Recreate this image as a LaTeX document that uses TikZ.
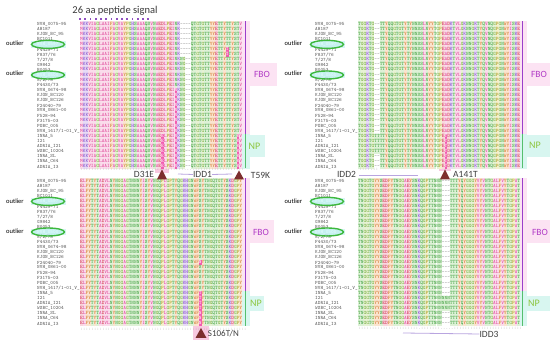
\documentclass[tikz,border=0pt]{standalone}
\usepackage{fontspec}
\setmainfont{Carlito}
\usetikzlibrary{shapes.geometric}
\pgfdeclarelayer{bg}
\pgfsetlayers{bg,main}
\definecolor{hyF}{HTML}{E0479A}\definecolor{hyB}{HTML}{FADCEB}
\definecolor{poF}{HTML}{3A9E3A}\definecolor{poB}{HTML}{DDF1D6}
\definecolor{glF}{HTML}{6AA72F}\definecolor{glB}{HTML}{E7F2D4}
\definecolor{arF}{HTML}{D07A2E}\definecolor{arB}{HTML}{FBE4CF}
\definecolor{prF}{HTML}{A89A1E}\definecolor{prB}{HTML}{F4F0CC}
\definecolor{baF}{HTML}{7E44C4}\definecolor{baB}{HTML}{E7DBF6}
\definecolor{acF}{HTML}{D0304F}\definecolor{acB}{HTML}{F9D6DE}
\definecolor{cyF}{HTML}{B09000}\definecolor{cyB}{HTML}{FAF2C0}
\definecolor{hlB}{HTML}{F25CB0}\definecolor{hlF}{HTML}{FFFFFF}
\definecolor{gapc}{HTML}{8A8A8A}
\definecolor{nmc}{HTML}{555555}
\definecolor{hidc}{HTML}{E6FFFF}
\definecolor{fbo}{HTML}{B13BC6}\definecolor{fbobox}{HTML}{FCE3F3}
\definecolor{npc}{HTML}{8DC63F}\definecolor{npbox}{HTML}{D8F6F0}
\definecolor{barP}{HTML}{9B3FCB}\definecolor{barG}{HTML}{55BF6E}
\definecolor{tric}{HTML}{7D2E2E}\definecolor{iddc}{HTML}{B9A5E0}
\definecolor{ellg}{HTML}{3DB83D}\definecolor{ellf}{HTML}{C6F1F0}
\definecolor{dotc}{HTML}{9050C0}\definecolor{labc}{HTML}{404040}
\definecolor{pinkhl}{HTML}{F8C8E0}
% residue cells
\def\aabox#1#2#3{\rlap{\textcolor{#1}{\rule[-1.5pt]{2.7pt}{5.1pt}}}\hbox to 2.7pt{\hss\textcolor{#2}{#3}\hss}}
\def\defaa#1#2#3{\expandafter\def\csname sqc#1\endcsname{\aabox{#2}{#3}{#1}}}
\defaa A{hyB}{hyF}\defaa I{hyB}{hyF}\defaa L{hyB}{hyF}\defaa V{hyB}{hyF}\defaa M{hyB}{hyF}
\defaa S{poB}{poF}\defaa T{poB}{poF}\defaa N{poB}{poF}\defaa Q{poB}{poF}
\defaa G{glB}{glF}
\defaa F{arB}{arF}\defaa W{arB}{arF}\defaa Y{arB}{arF}
\defaa P{prB}{prF}
\defaa K{baB}{baF}\defaa R{baB}{baF}\defaa H{baB}{baF}
\defaa D{acB}{acF}\defaa E{acB}{acF}
\defaa C{cyB}{cyF}
\expandafter\def\csname sqc-\endcsname{\hbox to 2.7pt{\hss\textcolor{gapc}{-}\hss}}
\def\sqchar#1{\ifcsname sqc#1\endcsname\csname sqc#1\endcsname\else\aabox{hlB}{hlF}{\uppercase{#1}}\fi}
\def\sqend{}
\def\sqloop#1{\ifx#1\sqend\else\sqchar{#1}\expandafter\sqloop\fi}
\def\sq#1{\sqloop#1\sqend}
\def\sqm#1{\expandafter\sq\expandafter{#1}}
% sequences
\def\TLa{MKKVIAGLAAIFAGVAYPGHSAAAQSVNAEDLPEINK----QTGTGTTYYETTYTTYSTV}
\def\TLe{MKKVIAGLAAIFAGVAYPGHSAAAQSVNAEDLPEINK----QTGTGTTYYETTYtTYSTV}
\def\TLb{MKKVIAGLAAIFAGVAYPGHSAAAQSVNAEDLPEINKNG--QTGTGTTYYETTYTTYSTV}
\def\TLd{MKKVIAGLAAIFAGVAYPGHSAAAQSVNAEDLPEInKNG--QTGTGTTYYETTYTTYSTV}
\def\TLc{MKKVIAGLAAIFAGVAYPGHSAAAQSVNAEeLPEInKNG--QTGTGTTYYETTYTTYSkV}
\def\BLa{ELFYTYTADVLNYNGGAGTNNNYISYVNGQPLGPTYQGKHGNWFSYTNGQTGTYSKDGPY}
\def\BLb{ELFYTYTADVLNYNGGAGTNNNYISYVNGQPLGPTYQGKHGNWFtYTNGQTGTYSKDGPY}
\def\BLc{ELFYTYTADVLNYNGGAGTNNNYISYVNGQPLGPTYQGKHGNWFnYTNGQTGTYSKDGPY}
\def\TRa{TGGKTG--TTYQQGTGTYTYNNSSLNYYTGPEADKTVLGKNNGKTYQVNQGPGNWYISKE}
\def\TRb{TGGKTGTTTTYQQGTGTYTYNNSSLNYYTGPEtDKTVLGKNNGKTYQVNQGPGNWYISKE}
\def\TRc{TGGKTG--TTYQQGTGTYTYNNSSLNYYTGPEtDKTVLGKNNGKTYQVNQGPGNWYISKE}
\def\BRa{TNGGTGYYSEDFYTNGGAEYSNKQGPTTNNN---TTTYQYGGGYVYVNTGALFVYTGPAT}
\def\BRb{TNGGTGYYSEDFYTNGGAEYSNKQGPTTNNNNNNTTTYQYGGGYVYVNTGALFVYTGPAT}
\tikzset{
  nm/.style={anchor=west,inner sep=0pt,font=\fontsize{5}{5}\ttfamily,text=nmc},
  sqn/.style={anchor=west,inner sep=0pt,font=\fontsize{5.14}{5.1}\ttfamily},
  cons/.style={anchor=west,inner sep=0pt,font=\fontsize{5.14}{5}\ttfamily,text=gapc!80},
  lab/.style={inner sep=0pt,font=\fontsize{9.5}{9.5}\selectfont,text=labc},
  outl/.style={inner sep=0pt,font=\fontsize{6.5}{6.5}\selectfont,text=black},
  fbolab/.style={inner sep=0pt,font=\fontsize{9.5}{9.5}\selectfont,text=fbo},
  nplab/.style={inner sep=0pt,font=\fontsize{10}{10}\selectfont,text=npc},
  ell/.style={draw=ellg,line width=1.4pt},
  iddline/.style={draw=iddc,line width=0.8pt},
  tri/.style={fill=tric}
}
\newcommand\arow[6]{%
  \pgfmathsetmacro\yt{24+(#1-1)*5.1}%
  \pgfmathsetmacro\yb{181+(#1-1)*5.1}%
  \node[nm] (ntl#1) at (37,\yt) {#2};
  \node[nm] (ntr#1) at (315,\yt) {#2};
  \node[nm] (nbl#1) at (37,\yb) {#2};
  \node[nm] (nbr#1) at (315,\yb) {#2};
  \node[sqn] (stl#1) at (80,\yt) {\sqm{#3}};
  \node[sqn] (sbl#1) at (80,\yb) {\sqm{#4}};
  \node[sqn] (str#1) at (358,\yt) {\sqm{#5}};
  \node[sqn] (sbr#1) at (358,\yb) {\sqm{#6}};
}
\begin{document}
\begin{tikzpicture}[x=1pt,y=-1pt]
\useasboundingbox (0,0) rectangle (550,344);
\begin{pgfonlayer}{bg}
  \fill[white] (0,0) rectangle (550,344);
  % bar bands
  \foreach \bx in {241.5,519} {
    \fill[fbobox] (\bx,21.5) rectangle ++(8,112.2);
    \fill[npbox] (\bx,133.7) rectangle ++(8,35.3);
    \fill[fbobox] (\bx,178.5) rectangle ++(8,112.2);
    \fill[npbox] (\bx,290.7) rectangle ++(8,35.3);
  }
  % label boxes
  \fill[fbobox] (249,63) rectangle (277,86);
  \fill[fbobox] (526,63) rectangle (550,86);
  \fill[fbobox] (246,220) rectangle (274,243);
  \fill[fbobox] (525,220) rectangle (550,243);
  \fill[npbox] (243,135) rectangle (265,157);
  \fill[npbox] (522,135) rectangle (550,157);
  \fill[npbox] (243,296) rectangle (264,311);
  \fill[npbox] (521,296) rectangle (550,311);
  % outlier highlights
  \foreach \ex/\ey in {48/44.4,48/75,327/44.4,327/75,48/201.4,48/232,327/201.4,327/232} {
    \fill[ellf!70] (\ex-17.5,\ey-3.2) rectangle (\ex+17.5,\ey+3.2);
    \fill[ellf] (\ex,\ey) ellipse [x radius=16.5pt, y radius=4pt];
  }
  % pink highlights at markers
  \fill[pinkhl] (155,167.5) rectangle (169,173.5);
  \fill[pinkhl] (439,165) rectangle (451,171);
  \fill[pinkhl] (193,326) rectangle (209,340);
\end{pgfonlayer}
% title and signal dots
\node[inner sep=0pt,font=\fontsize{10.5}{10.5}\selectfont,text=labc!90!black] (title) at (115,10.5) {26 aa peptide signal};
\foreach \k in {0,...,13} {\fill[dotc] (79.2+\k*5.25,18.2) rectangle ++(1.6,1.6);}
% rows
\arow{1}{NVH\_0075-95}{\TLa}{\BLa}{\TRa}{\BRa}
\arow{2}{AH187}{\TLa}{\BLa}{\TRa}{\BRa}
\arow{3}{KJON\_BC\_95}{\TLa}{\BLa}{\TRa}{\BRa}
\arow{4}{BC1011}{\TLa}{\BLa}{\TRa}{\BRa}
\arow{5}{\color{hidc}NVH\_0597}{\TLa}{\BLa}{\TRa}{\BRa}
\arow{6}{F4429-71}{\TLe}{\BLa}{\TRa}{\BRa}
\arow{7}{F837/76}{\TLe}{\BLa}{\TRa}{\BRa}
\arow{8}{7/27/8}{\TLb}{\BLa}{\TRa}{\BRa}
\arow{9}{G9842}{\TLb}{\BLa}{\TRa}{\BRa}
\arow{10}{B0053}{\TLb}{\BLa}{\TRa}{\BRa}
\arow{11}{\color{hidc}NVH\_0500}{\TLb}{\BLa}{\TRa}{\BRa}
\arow{12}{8/2/78}{\TLb}{\BLa}{\TRa}{\BRa}
\arow{13}{F4430/73}{\TLb}{\BLa}{\TRa}{\BRa}
\arow{14}{NVH\_0674-98}{\TLd}{\BLa}{\TRa}{\BRa}
\arow{15}{KJON\_BC120}{\TLd}{\BLa}{\TRa}{\BRa}
\arow{16}{KJON\_BC126}{\TLd}{\BLa}{\TRa}{\BRa}
\arow{17}{F24040-79}{\TLd}{\BLc}{\TRa}{\BRa}
\arow{18}{NVH\_0861-00}{\TLd}{\BLa}{\TRa}{\BRa}
\arow{19}{F528-94}{\TLd}{\BLa}{\TRa}{\BRa}
\arow{20}{F3175-03}{\TLd}{\BLa}{\TRa}{\BRa}
\arow{21}{POBC\_005}{\TLd}{\BLa}{\TRa}{\BRa}
\arow{22}{NVH\_1417/1-01\_V\_}{\TLd}{\BLa}{\TRa}{\BRa}
\arow{23}{INRA\_5}{\TLc}{\BLb}{\TRb}{\BRa}
\arow{24}{I21}{\TLc}{\BLb}{\TRb}{\BRb}
\arow{25}{ADRIA\_I21}{\TLc}{\BLb}{\TRb}{\BRb}
\arow{26}{WSBC\_10204}{\TLc}{\BLb}{\TRb}{\BRb}
\arow{27}{INRA\_SL}{\TLc}{\BLc}{\TRc}{\BRa}
\arow{28}{INRA\_C64}{\TLc}{\BLc}{\TRc}{\BRa}
\arow{29}{ADRIA\_I3}{\TLc}{\BLc}{\TRc}{\BRa}
% consensus rows
\node[cons] (ctl) at (80,169) {::::::::::::::::::::::::::.:::::::::::....::::::::::::::::::};
\node[cons] (ctr) at (359,169) {::::.::};
\node[cons] (cbl) at (80,329.3) {::::::::::::::::::::.:::::::::::::::::::::::.::::::::::::::::};
\node[cons] (cbr) at (358,328.8) {::::::::::::::::::::::.:::::::.....:::::::::::::::::::::::::};
% ellipses and outlier labels
\foreach \ex/\ey in {48/44.4,48/75,327/44.4,327/75,48/201.4,48/232,327/201.4,327/232} {
  \draw[ell] (\ex,\ey) ellipse [x radius=16.5pt, y radius=4pt];
}
\node[outl] (o1) at (15,43.5) {outlier};
\node[outl] (o2) at (15,73.5) {outlier};
\node[outl] (o3) at (293.5,43.5) {outlier};
\node[outl] (o4) at (293.5,73.5) {outlier};
\node[outl] (o5) at (15,201) {outlier};
\node[outl] (o6) at (15,231.5) {outlier};
\node[outl] (o7) at (293.5,201) {outlier};
\node[outl] (o8) at (293.5,231.5) {outlier};
% group bars
\foreach \bx in {245.5,522.5} {
  \draw[barP,line width=1.7pt] (\bx,21.5) -- (\bx,133.7);
  \draw[barG,line width=1.7pt] (\bx,133.7) -- (\bx,168.5);
  \draw[barP,line width=1.7pt] (\bx,178.5) -- (\bx,290.7);
  \draw[barG,line width=1.7pt] (\bx,290.7) -- (\bx,326);
}
% group labels
\node[fbolab] (fbo1) at (262,74) {FBO};
\node[fbolab] (fbo2) at (539,74) {FBO};
\node[fbolab] (fbo3) at (261,232) {FBO};
\node[fbolab] (fbo4) at (540,232) {FBO};
\node[nplab] (np1) at (254.5,146) {NP};
\node[nplab] (np2) at (535,145.5) {NP};
\node[nplab] (np3) at (256,303.5) {NP};
\node[nplab] (np4) at (534,303.5) {NP};
% mutation markers
\fill[tri] (157,179.5) -- (162,169.5) -- (167,179.5) -- cycle;
\fill[tri] (234,179.5) -- (239,170.5) -- (244,179.5) -- cycle;
\fill[tri] (440,179.5) -- (445,169.5) -- (450,179.5) -- cycle;
\fill[tri] (195.5,338) -- (201,328) -- (206.5,338) -- cycle;
\node[lab] (lD31E) at (144,174.5) {D31E};
\node[lab] (lT59K) at (260.5,175) {T59K};
\node[lab] (lA141T) at (465.5,174.5) {A141T};
\node[lab,font=\fontsize{9}{9}\selectfont] (lS106) at (223.5,333.5) {S106T/N};
% IDD regions
\node[lab] (lIDD1) at (202.5,174.5) {IDD1};
\draw[iddline] (178,174) -- (lIDD1.west);
\draw[iddline] (lIDD1.east) -- (232,174);
\node[lab] (lIDD2) at (346.5,174.5) {IDD2};
\coordinate (idd2e) at (418,175.5);
\draw[iddline] (359,175.5) -- (idd2e);
\node[lab] (lIDD3) at (489,334) {IDD3};
\coordinate (idd3s) at (403,333);
\draw[iddline] (idd3s) -- (lIDD3.west);
\end{tikzpicture}
\end{document}
